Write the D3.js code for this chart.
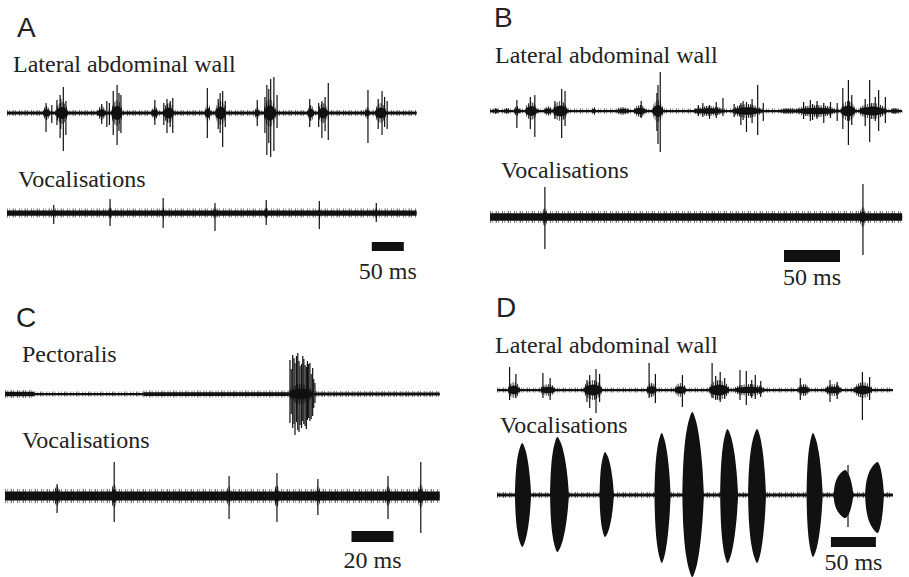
<!DOCTYPE html>
<html>
<head>
<meta charset="utf-8">
<script src="https://cdn.jsdelivr.net/npm/d3@7"></script>
<style>
body { margin: 0; background: #fff; }
</style>
</head>
<body>
<script>
var width = 909, height = 577
var serif = "'Liberation Serif', 'Times New Roman', Times, 'DejaVu Serif', serif"
var sans = "'Liberation Sans', Arial, Helvetica, sans-serif"

// all times in ms, amplitudes in arbitrary units
// noise: [t0, t1, half amplitude]   bursts: [t, half width, amplitude]   spikes: [t, up, down]

// A
var aWallNoise = [[0, 640, 2]]
var aWallBursts = [[62,6,7],[86,10,11],[148,7,7],[172,9,13],[231,5,7],[253,9,10],[314,5,9],[334,9,12],
  [391,4,6],[411,10,14],[475,5,8],[494,8,10],[563,4,6],[584,9,10]]
var aWallSpikes = [[61,10,19],[70,8,10],[78,13,12],[83,18,25],[84,14,16],[88,26,38],[92,12,22],
  [148,9,11],[156,12,14],[160,10,12],[166,22,22],[172,28,32],[175,20,18],[178,18,20],
  [231,13,12],[245,10,12],[250,14,20],[255,12,14],[259,15,20],
  [313,25,25],[330,14,16],[333,20,20],[337,22,34],[341,12,14],
  [391,13,13],[403,16,20],[406,28,42],[409,24,30],[412,34,44],[417,36,38],[422,18,15],
  [473,14,14],[487,10,14],[492,12,25],[497,16,18],[502,30,27],
  [564,23,30],[580,14,16],[586,22,22],[590,16,14],[594,12,16]]
var aVocNoise = [[0, 640, 3.5]]
var aVocBursts = [[73,3,5],[161,3,6],[244,3,6],[325,3,6],[405,3,6],[488,3,6],[577,3,5]]
var aVocSpikes = [[73,8,11],[161,14,13],[244,15,15],[325,10,18],[405,13,12],[488,12,16],[577,10,9]]

// B
var bWallNoise = [[0, 368, 1.5]]
var bWallBursts = [[5,3,3],[15,3,3],[24,3,5],[37,6,9],[52,4,5],[63,7,10],[93,2,4],[119,6,4],[134,6,6],
  [150,5,11],[196,15,5],[230,14,7],[267,9,3],[292,20,6],[320,7,10],[342,13,8],[362,5,3]]
var bWallSpikes = [[24,11,17],[36,14,18],[40,16,26],[58,10,8],[64,22,27],[67,20,15],[135,10,7],
  [149,18,20],[150,26,33],[152,39,41],[186,6,5],[190,8,6],[196,6,8],[202,9,7],[208,13,5],[218,7,6],
  [224,8,14],[226,10,9],[229,9,21],[234,12,12],[239,26,24],[244,8,10],[280,9,8],[286,11,10],[288,7,9],
  [292,10,8],[298,8,12],[304,9,7],[310,8,10],[315,23,18],[320,31,34],[323,16,14],[335,12,15],
  [339,31,31],[344,14,10],[347,21,20],[353,14,12]]
var bVocNoise = [[0, 368, 5]]
var bVocBursts = [[49,3,9],[333,3,10]]
var bVocSpikes = [[49,30,32],[333,33,38]]

// C
var cPectNoise = [[0,14,3],[14,66,1.5],[66,135,2.5],[135,148,1.5],[148,207,2]]
var cPectBursts = [[141,6,10]]
var cPectSpikes = [[135.7,34,29],[136.3,25,20],[137,39,34],[137.6,36,30],[138.1,31,41],[138.8,38,28],
  [139.4,41,36],[140,33,38],[140.5,28,31],[141.2,30,34],[141.8,38,27],[142.3,35,30],[142.9,29,32],
  [143.5,27,35],[144,33,26],[144.6,30,24],[145.2,31,27],[145.8,20,25],[146.5,26,22],[147,15,14],[147.6,11,9]]
var cVocNoise = [[0, 207, 6]]
var cVocBursts = [[24.8,1.5,10],[52,1.5,12],[106.7,1.5,10],[129.5,1.5,11],[149,1.5,10],[182.4,1.5,10],[198,1.5,12]]
var cVocSpikes = [[24.8,12,17],[52,34,26],[106.7,20,23],[129.5,23,26],[149,17,19],[182.4,20,23],[198,34,37]]

// D
var dWallNoise = [[0, 440, 1.5]]
var dWallBursts = [[19,7,8],[57,9,6],[107,11,10],[172,6,7],[204,7,7],[247,12,10],[281,19,6],[341,7,6],[374,10,6],[407,11,8]]
var dWallSpikes = [[14,23,10],[21,16,8],[51,17,8],[59,12,10],[100,10,12],[103,15,18],[110,21,23],[114,16,12],
  [169,27,8],[176,16,13],[206,15,17],[239,27,8],[243,14,10],[248,18,12],[253,12,9],[270,20,10],[277,19,15],
  [283,10,8],[287,15,9],[293,9,7],[337,12,10],[370,10,12],[378,8,9],[406,18,30],[414,13,10]]
var dVocNoise = [[0, 440, 2]]
// syllables: [t peak, rise ms, decay ms, up, down]
var dVocSyllables = [[28,8,10,52,52],[67,8,13,58,57],[120,6,10,43,42],[183,8,10,62,68],[217,11,13,83,82],
  [256,8,12,66,68],[289,10,10,66,68],[351,7,11,62,62],[387,13,9,25,23],[423,14,7,33,38]]
var dVocSpikes = [[390,30,32]]

// envelope of one burst: [relative time, relative height]
var burstShape = [[-1,0],[-0.9,0.4],[-0.65,0.72],[-0.3,0.92],[0,1],[0.3,0.9],[0.6,0.68],[0.85,0.35],[1,0]]

var letters = ["A", "B", "C", "D"]
var scaleBarMs = [50, 50, 20, 50]
var scaleBarLabels = ["50 ms", "50 ms", "20 ms", "50 ms"]

function cores(list) { return list.map(function(b) { return [b[0], b[1], b[1], b[2], b[2]] }) }

var panels = [
  {lx: 17, ly: 37, left: 7, pxPerMs: 0.64, ms: 640, bar: {t: 570, y: 242, h: 9, ty: 279},
   traces: [{label: "Lateral abdominal wall", tx: 13, ty: 72, base: 113, noise: aWallNoise, bursts: cores(aWallBursts), spikes: aWallSpikes},
            {label: "Vocalisations", tx: 18, ty: 187, base: 213, noise: aVocNoise, bursts: cores(aVocBursts), spikes: aVocSpikes}]},
  {lx: 494, ly: 27, left: 490, pxPerMs: 1.12, ms: 368, bar: {t: 262.5, y: 250, h: 12, ty: 285},
   traces: [{label: "Lateral abdominal wall", tx: 495, ty: 63, base: 111, noise: bWallNoise, bursts: cores(bWallBursts), spikes: bWallSpikes},
            {label: "Vocalisations", tx: 501, ty: 178, base: 217, noise: bVocNoise, bursts: cores(bVocBursts), spikes: bVocSpikes}]},
  {lx: 16, ly: 327, left: 5, pxPerMs: 2.1, ms: 207, bar: {t: 165, y: 531, h: 11, ty: 568},
   traces: [{label: "Pectoralis", tx: 22, ty: 362, base: 394, noise: cPectNoise, bursts: cores(cPectBursts), spikes: cPectSpikes},
            {label: "Vocalisations", tx: 22, ty: 448, base: 496, noise: cVocNoise, bursts: cores(cVocBursts), spikes: cVocSpikes}]},
  {lx: 496, ly: 317, left: 497, pxPerMs: 0.9, ms: 440, bar: {t: 371, y: 537, h: 10, ty: 570},
   traces: [{label: "Lateral abdominal wall", tx: 495, ty: 353, base: 390, noise: dWallNoise, bursts: cores(dWallBursts), spikes: dWallSpikes},
            {label: "Vocalisations", tx: 500, ty: 433, base: 495, noise: dVocNoise, bursts: dVocSyllables, spikes: dVocSpikes, solid: true}]}
]

var svg = d3.select("body").append("svg")
    .attr("width", width)
    .attr("height", height)

// vertical hatching gives EMG bursts their spiky look
svg.append("defs").append("pattern")
    .attr("id", "hatch")
    .attr("patternUnits", "userSpaceOnUse")
    .attr("width", 2.2).attr("height", 6)
  .append("rect")
    .attr("width", 1).attr("height", 6)
    .attr("fill", "#111")

function label(g, x, y, txt, family, size) {
  return g.append("text")
    .attr("x", x).attr("y", y)
    .attr("font-family", family).attr("font-size", size)
    .attr("fill", "#222")
    .text(txt)
}

panels.forEach(function(p, i) {
  var g = svg.append("g")
  var x = d3.scaleLinear().domain([0, p.ms]).range([p.left, p.left + p.ms * p.pxPerMs])

  label(g, p.lx, p.ly, letters[i], sans, 28)

  p.traces.forEach(function(tr) {
    var y = d3.scaleLinear().domain([-100, 100]).range([tr.base + 100, tr.base - 100])

    label(g, tr.tx, tr.ty, tr.label, serif, 24)

    // baseline
    g.append("line")
      .attr("x1", x(0)).attr("x2", x(p.ms))
      .attr("y1", y(0)).attr("y2", y(0))
      .attr("stroke", "#111").attr("stroke-width", 1.6)

    // background noise: solid core + fuzzy edge
    g.selectAll(null).data(tr.noise).join("line")
      .attr("x1", function(d) { return x(d[0]) }).attr("x2", function(d) { return x(d[1]) })
      .attr("y1", y(0)).attr("y2", y(0))
      .attr("stroke", "#111")
      .attr("stroke-width", function(d) { return (y(0) - y(d[2])) * 1.5 })
    g.selectAll(null).data(tr.noise).join("line")
      .attr("x1", function(d) { return x(d[0]) }).attr("x2", function(d) { return x(d[1]) })
      .attr("y1", y(0)).attr("y2", y(0))
      .attr("stroke", "#111").attr("stroke-opacity", 0.7)
      .attr("stroke-dasharray", "0.8,1.7,0.6,2.6,1.1,1.4,0.7,3.1")
      .attr("stroke-width", function(d) { return (y(0) - y(d[2])) * 2 + 2 })

    function envelope(b, k) {
      var pts = burstShape.map(function(s) { return {t: b[0] + s[0] * (s[0] < 0 ? b[1] : b[2]), h: s[1]} })
      return d3.area().curve(d3.curveCatmullRom)
        .x(function(q) { return x(q.t) })
        .y0(function(q) { return y(-q.h * b[4] * k) })
        .y1(function(q) { return y(q.h * b[3] * k) })(pts)
    }

    if (tr.solid) {
      g.selectAll(null).data(tr.bursts).join("path")
        .attr("fill", "#111")
        .attr("d", function(b) { return envelope(b, 1) })
    } else {
      g.selectAll(null).data(tr.bursts).join("path")
        .attr("fill", "url(#hatch)")
        .attr("d", function(b) { return envelope(b, 1) })
      g.selectAll(null).data(tr.bursts).join("path")
        .attr("fill", "#111")
        .attr("d", function(b) { return envelope(b, 0.55) })
    }

    // single spikes
    g.selectAll(null).data(tr.spikes).join("line")
      .attr("x1", function(d) { return x(d[0]) }).attr("x2", function(d) { return x(d[0]) })
      .attr("y1", function(d) { return y(d[1]) }).attr("y2", function(d) { return y(-d[2]) })
      .attr("stroke", "#111").attr("stroke-width", 1.2)
  })

  // scale bar
  g.append("rect")
    .attr("x", x(p.bar.t)).attr("y", p.bar.y)
    .attr("width", x(p.bar.t + scaleBarMs[i]) - x(p.bar.t)).attr("height", p.bar.h)
    .attr("fill", "#111")
  label(g, x(p.bar.t + scaleBarMs[i] / 2), p.bar.ty, scaleBarLabels[i], serif, 24)
    .attr("text-anchor", "middle")
})
</script>
</body>
</html>
